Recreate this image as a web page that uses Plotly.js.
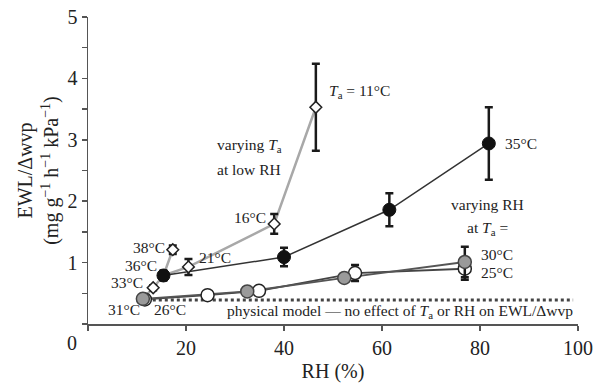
<!DOCTYPE html>
<html>
<head>
<meta charset="utf-8">
<script src="https://cdn.plot.ly/plotly-3.0.1.min.js"></script>
<style>html,body{margin:0;padding:0;background:#fff;}#chart{width:598px;height:388px;}</style>
</head>
<body>
<div id="chart"></div>
<script>
// Varying Ta at low RH (open diamonds): labels 11,16,21,38,33 °C
const taLabels = ['11°C', '16°C', '21°C', '38°C', '33°C'];
const taRH  = [46.5, 38.0, 20.5, 17.3, 13.3];
const taEWL = [3.53, 1.63, 0.93, 1.21, 0.59];
const taErr = [0.71, 0.16, 0.13, 0.07, 0.04];
// grey connecting path of the low-RH points
const lowPathRH  = [46.5, 38.0, 20.5, 15.4, 17.3, null, 15.4, 13.3, 11.2];
const lowPathEWL = [3.53, 1.63, 0.93, 0.79, 1.21, null, 0.79, 0.59, 0.41];
// Ta = 35 °C, varying RH (black dots)
const t35RH  = [15.4, 40.0, 61.5, 81.8];
const t35EWL = [0.79, 1.09, 1.86, 2.94];
const t35Err = [0.08, 0.15, 0.27, 0.59];
// Ta = 30 °C (grey circles)
const t30RH  = [11.2, 32.5, 52.3, 76.9];
const t30EWL = [0.41, 0.53, 0.75, 1.01];
const t30Err = [0.03, 0.05, 0.04, 0.25];
// Ta = 25 °C (open circles)
const t25RH  = [11.6, 24.4, 34.9, 54.5, 76.9];
const t25EWL = [0.40, 0.47, 0.54, 0.83, 0.90];
const t25Err = [0.03, 0.03, 0.06, 0.13, 0.18];
// physical model
const modelRH  = [12, 99];
const modelEWL = [0.39, 0.39];
// axis ticks
const xTicks = [20, 40, 60, 80, 100];
const yTicks = [1, 2, 3, 4, 5];

const FONT = 'Liberation Serif, Times New Roman, serif';
const eb = (arr) => ({type: 'data', array: arr, visible: true, color: '#1a1a1a', thickness: 2.5, width: 4});

const traces = [
  {x: modelRH, y: modelEWL, mode: 'lines', line: {color: '#444', width: 3, dash: 'dot'}, hoverinfo: 'skip'},
  {x: lowPathRH, y: lowPathEWL, mode: 'lines', line: {color: '#a8a8a8', width: 2.5}, connectgaps: false, hoverinfo: 'skip'},
  {x: t35RH, y: t35EWL, mode: 'lines', line: {color: '#333', width: 1.5}},
  {x: t25RH, y: t25EWL, mode: 'lines', line: {color: '#444', width: 1.8}},
  {x: t30RH, y: t30EWL, mode: 'lines', line: {color: '#555', width: 1.8}},
  {x: taRH, y: taEWL, mode: 'markers', error_y: eb(taErr),
   marker: {symbol: 'diamond', size: 9, color: '#fff', line: {color: '#222', width: 1.5}}},
  {x: t35RH, y: t35EWL, mode: 'markers', error_y: eb(t35Err),
   marker: {symbol: 'circle', size: 13, color: '#111', line: {color: '#111', width: 1}}},
  {x: t25RH, y: t25EWL, mode: 'markers', error_y: eb(t25Err),
   marker: {symbol: 'circle', size: 13, color: '#fff', line: {color: '#222', width: 1.5}}},
  {x: t30RH, y: t30EWL, mode: 'markers', error_y: eb(t30Err),
   marker: {symbol: 'circle', size: 13, color: '#9a9a9a', line: {color: '#444', width: 1.5}}}
];

const FS = 15.5;
const ann = (x, y, text, xanchor) => ({x, y, xref: 'x', yref: 'y', text, showarrow: false,
  xanchor: xanchor || 'left', yanchor: 'middle', font: {family: FONT, size: FS, color: '#222'}});

const annotations = [
  ann(48.7, 3.78, '<i>T</i><sub>a</sub> = 11°C'),
  ann(25.9, 2.90, 'varying <i>T</i><sub>a</sub>'),
  ann(25.9, 2.52, 'at low RH'),
  ann(36.7, 1.74, '16°C', 'right'),
  ann(84.6, 2.94, '35°C'),
  ann(81.6, 1.94, 'varying RH', 'center'),
  ann(81.6, 1.56, 'at <i>T</i><sub>a</sub> =', 'center'),
  ann(79.8, 1.13, '30°C'),
  ann(79.8, 0.84, '25°C'),
  ann(16.1, 1.24, '38°C', 'right'),
  ann(14.5, 0.96, '36°C', 'right'),
  ann(11.6, 0.68, '33°C', 'right'),
  ann(22.3, 1.09, '21°C'),
  ann(7.3, 0.23, '31°C', 'center'),
  ann(16.7, 0.24, '26°C', 'center'),
  ann(63.7, 0.20, 'physical model — no effect of <i>T</i><sub>a</sub> or RH on EWL/Δwvp', 'center'),
  {x: -0.033, y: -0.062, xref: 'paper', yref: 'paper', text: '0', showarrow: false, xanchor: 'center', yanchor: 'middle',
   font: {family: FONT, size: 20, color: '#222'}}
];

const layout = {
  width: 598, height: 388,
  margin: {l: 88, r: 20, t: 17, b: 64},
  paper_bgcolor: '#fff', plot_bgcolor: '#fff',
  showlegend: false,
  font: {family: FONT, color: '#222'},
  xaxis: {
    range: [0, 100], tickvals: xTicks,
    showline: true, linecolor: '#555', linewidth: 1.5, ticks: 'outside', ticklen: 5, tickcolor: '#555', tickwidth: 1.5,
    minor: {dtick: 20, tick0: 0, ticks: 'outside', ticklen: 5, tickcolor: '#555', tickwidth: 1.5, showgrid: false},
    showgrid: false, zeroline: false, tickfont: {family: FONT, size: 20, color: '#222'},
    title: {text: 'RH (%)', font: {family: FONT, size: 20, color: '#222'}, standoff: 6}
  },
  yaxis: {
    range: [0, 5], tickvals: yTicks,
    showline: true, linecolor: '#555', linewidth: 1.5, ticks: 'outside', ticklen: 5, tickcolor: '#555', tickwidth: 1.5,
    minor: {dtick: 0.5, tick0: 0, ticks: 'outside', ticklen: 5, tickcolor: '#555', tickwidth: 1.5, showgrid: false},
    showgrid: false, zeroline: false, tickfont: {family: FONT, size: 20, color: '#222'},
    title: {text: 'EWL/Δwvp<br>(mg g<sup>−1</sup> h<sup>−1</sup> kPa<sup>−1</sup>)', font: {family: FONT, size: 20, color: '#222'}, standoff: 3}
  },
  annotations: annotations
};

Plotly.newPlot('chart', traces, layout, {displayModeBar: false, staticPlot: true});
</script>
</body>
</html>
